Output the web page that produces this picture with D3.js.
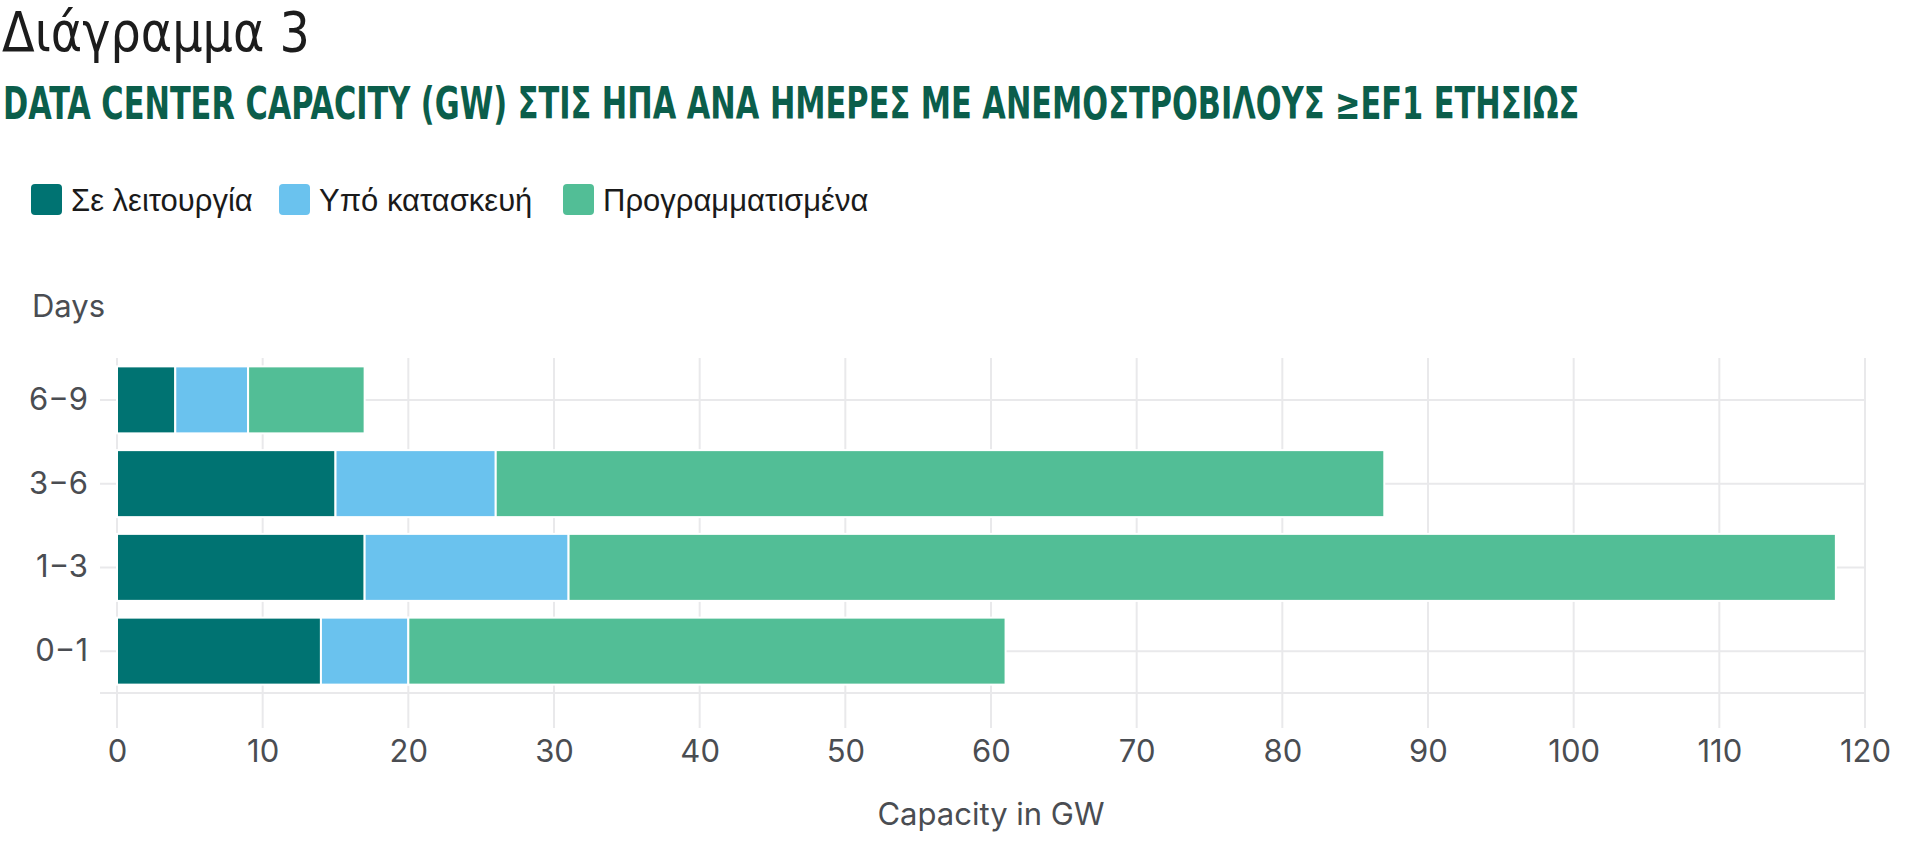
<!DOCTYPE html>
<html>
<head>
<meta charset="utf-8">
<script src="https://cdn.jsdelivr.net/npm/d3@7"></script>
<style>
  html, body { margin: 0; padding: 0; background: #ffffff; }
  svg { display: block; }
</style>
</head>
<body>
<svg id="chart" width="1920" height="861"></svg>
<script>
// ---- data ----
const categories = ["6−9", "3−6", "1−3", "0−1"];
const seriesNames = ["Σε λειτουργία", "Υπό κατασκευή", "Προγραμματισμένα"];
const operating = [4, 15, 17, 14];
const underConstruction = [5, 11, 14, 6];
const planned = [8, 61, 87, 41];
const xTicks = [0, 10, 20, 30, 40, 50, 60, 70, 80, 90, 100, 110, 120];
const colors = ["#007372", "#6ac2ee", "#52be96"];

const titleText = "Διάγραμμα 3";
const subtitleText = "DATA CENTER CAPACITY (GW) ΣΤΙΣ ΗΠΑ ΑΝΑ ΗΜΕΡΕΣ ΜΕ ΑΝΕΜΟΣΤΡΟΒΙΛΟΥΣ ≥EF1 ΕΤΗΣΙΩΣ";
const yAxisTitle = "Days";
const xAxisTitle = "Capacity in GW";

(function () {
const rows = categories.map((c, i) => ({
  cat: c,
  [seriesNames[0]]: operating[i],
  [seriesNames[1]]: underConstruction[i],
  [seriesNames[2]]: planned[i]
}));
const stacked = d3.stack().keys(seriesNames)(rows);

const svg = d3.select("#chart");

const pLeft = 117, pRight = 1865, pTop = 358, pBottom = 693;
const x = d3.scaleLinear().domain([0, 120]).range([pLeft, pRight]);
const y = d3.scaleBand().domain(categories).range([pTop, pBottom]).paddingInner(0.2).paddingOuter(0.1);

const gridColor = "#e9e9eb";
const textColor = "#4a4d52";
const axisFont = "Inter, Roboto, sans-serif";
const condFont = "'Liberation Sans Narrow', 'DejaVu Sans Condensed', 'DejaVu Sans', sans-serif";

// fit a text horizontally into a width by scaling it
function fitText(g, tx, ty, width) {
  const t = g.node();
  const w = t.getComputedTextLength();
  const sx = width / w;
  g.attr("x", 0).attr("y", 0)
   .attr("transform", `translate(${tx},${ty}) scale(${sx},1)`);
}

// ---- title ----
const title = svg.append("text")
  .attr("font-family", condFont)
  .attr("font-size", 56).attr("font-weight", 300)
  .attr("fill", "#1c1c1c")
  .text(titleText);
fitText(title, 2, 51, 308);

const sub = svg.append("text")
  .attr("font-family", condFont)
  .attr("font-size", 44).attr("font-weight", 700)
  .attr("fill", "#0b5e4b")
  .text(subtitleText);
fitText(sub, 3, 119, 1577);

// ---- legend ----
const legendX = [31, 279, 563];
const legend = svg.append("g");
seriesNames.forEach((name, i) => {
  legend.append("rect")
    .attr("x", legendX[i]).attr("y", 184)
    .attr("width", 31).attr("height", 31)
    .attr("rx", 4).attr("ry", 4)
    .attr("fill", colors[i]);
  legend.append("text")
    .attr("x", legendX[i] + 40).attr("y", 211)
    .attr("font-family", "'Liberation Sans', Arial, sans-serif")
    .attr("font-size", 31)
    .attr("fill", "#1a1a1a")
    .text(name);
});

// ---- grid ----
const grid = svg.append("g");
grid.selectAll("line.v").data(xTicks).join("line")
  .attr("class", "v")
  .attr("x1", d => x(d)).attr("x2", d => x(d))
  .attr("y1", pTop).attr("y2", 728)
  .attr("stroke", gridColor).attr("stroke-width", 2);
grid.selectAll("line.h").data(categories).join("line")
  .attr("class", "h")
  .attr("x1", 100).attr("x2", pRight)
  .attr("y1", d => y(d) + y.bandwidth() / 2).attr("y2", d => y(d) + y.bandwidth() / 2)
  .attr("stroke", gridColor).attr("stroke-width", 2);
grid.append("line")
  .attr("x1", 100).attr("x2", pRight)
  .attr("y1", pBottom).attr("y2", pBottom)
  .attr("stroke", gridColor).attr("stroke-width", 2);

// ---- bars ----
svg.append("g").selectAll("g").data(stacked).join("g")
  .attr("fill", (d, i) => colors[i])
  .selectAll("rect").data(d => d).join("rect")
  .attr("x", d => x(d[0]))
  .attr("y", d => y(d.data.cat))
  .attr("width", d => x(d[1]) - x(d[0]))
  .attr("height", y.bandwidth())
  .attr("stroke", "#ffffff").attr("stroke-width", 2);

// ---- axes ----
const xAxis = svg.append("g")
  .attr("transform", `translate(0,${pBottom})`)
  .call(d3.axisBottom(x).tickValues(xTicks).tickSize(0).tickPadding(47));
xAxis.select(".domain").remove();
xAxis.selectAll("text")
  .attr("font-family", axisFont).attr("font-size", 31)
  .attr("fill", textColor);

const yAxis = svg.append("g")
  .attr("transform", `translate(${pLeft},0)`)
  .call(d3.axisLeft(y).tickSize(0).tickPadding(29));
yAxis.select(".domain").remove();
yAxis.selectAll("text")
  .attr("font-family", axisFont).attr("font-size", 31)
  .attr("fill", textColor);

svg.append("text")
  .attr("x", 32).attr("y", 317)
  .attr("font-family", axisFont).attr("font-size", 31)
  .attr("fill", textColor)
  .text(yAxisTitle);

svg.append("text")
  .attr("x", (pLeft + pRight) / 2).attr("y", 825)
  .attr("text-anchor", "middle")
  .attr("font-family", axisFont).attr("font-size", 31)
  .attr("fill", textColor)
  .text(xAxisTitle);
})();
</script>
</body>
</html>
